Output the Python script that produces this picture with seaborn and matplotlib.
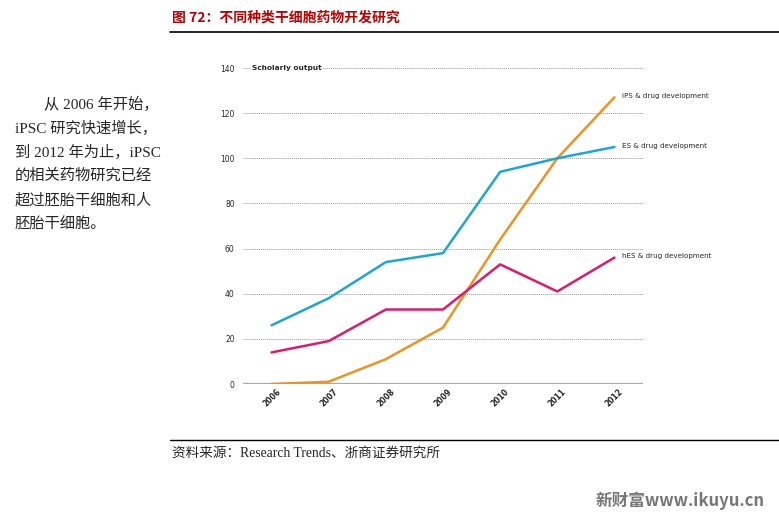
import matplotlib.pyplot as plt
import seaborn as sns
import pandas as pd

years = [2006, 2007, 2008, 2009, 2010, 2011, 2012]
ips_values = [0, 1, 11, 25, 64, 100, 127]
es_values = [26, 38, 54, 58, 94, 100, 105]
hes_values = [14, 19, 33, 33, 53, 41, 56]
series_names = ["iPS & drug development", "ES & drug development", "hES & drug development"]
series_colors = ["#f0921e", "#1ba6d8", "#e0196e"]
y_ticks = [0, 20, 40, 60, 80, 100, 120, 140]

df = pd.DataFrame({
    "year": years * 3,
    "value": ips_values + es_values + hes_values,
    "series": [series_names[0]] * 7 + [series_names[1]] * 7 + [series_names[2]] * 7,
})

sns.set_style("white")
plt.rcParams['font.family'] = ['DejaVu Sans', 'Noto Sans CJK SC']

fig = plt.figure(figsize=(7.79, 5.17), dpi=100)
ax = fig.add_axes([243 / 779, 1 - 384 / 517, 400 / 779, 316 / 517])

sns.lineplot(data=df, x="year", y="value", hue="series", palette=series_colors,
             hue_order=series_names, linewidth=1.8, legend=False, ax=ax)

ax.set_xlim(2005.5, 2012.5)
ax.set_ylim(0, 140)
ax.set_xticks(years)
ax.set_xticklabels([str(y) for y in years], rotation=45, fontsize=5.5,
                   fontweight='bold', ha='center', va='top')
ax.set_yticks(y_ticks)
ax.set_yticklabels([str(t) for t in y_ticks], fontsize=5.5)
ax.tick_params(axis='both', length=0, pad=6)
ax.tick_params(axis='x', pad=2)
for t in y_ticks[1:]:
    ax.axhline(t, color='#999999', linestyle=(0, (1, 1)), linewidth=0.7, zorder=0)
ax.axhline(0, color='#aaaaaa', linewidth=1.6, zorder=1)
for s in ax.spines.values():
    s.set_visible(False)
ax.set_xlabel("")
ax.set_ylabel("")

ax.text(2005.66, 140, "Scholarly output", fontsize=5.3, fontweight='bold',
        va='center', ha='left', bbox=dict(facecolor='white', edgecolor='none', pad=1))

end_vals = [ips_values[-1], es_values[-1], hes_values[-1]]
for name, v in zip(series_names, end_vals):
    ax.text(2012.14, v + 0.5, name, fontsize=5.1, va='center', ha='left', clip_on=False)

# header
fig.text(172 / 779, 1 - 18 / 517, "图 72：不同种类干细胞药物开发研究", fontsize=10,
         fontweight='bold', color='#c00000', va='center', ha='left',
         family=['Noto Sans CJK SC', 'DejaVu Sans'])
fig.add_artist(plt.Line2D([170 / 779, 1], [1 - 32 / 517] * 2, color='black', linewidth=1.2))
fig.add_artist(plt.Line2D([170 / 779, 1], [1 - 440 / 517] * 2, color='black', linewidth=1.0))

fig.text(172 / 779, 1 - 453 / 517, "资料来源：Research Trends、浙商证券研究所", fontsize=9.8,
         va='center', ha='left', family=['Liberation Serif', 'Noto Sans CJK SC'])

side_lines = ["从 2006 年开始，", "iPSC 研究快速增长，", "到 2012 年为止，iPSC",
              "的相关药物研究已经", "超过胚胎干细胞和人", "胚胎干细胞。"]
for i, line in enumerate(side_lines):
    x0 = 44 if i == 0 else 15
    fig.text(x0 / 779, 1 - (104 + 24 * i) / 517, line, fontsize=11, va='center', ha='left',
             family=['Liberation Serif', 'Noto Sans CJK SC'])

fig.text(765 / 779, 1 - 501 / 517, "新财富www.ikuyu.cn", fontsize=12, fontweight='bold',
         color='#777777', va='center', ha='right', family=['Noto Sans CJK SC', 'DejaVu Sans'])

fig.savefig("out.png", dpi=100)
